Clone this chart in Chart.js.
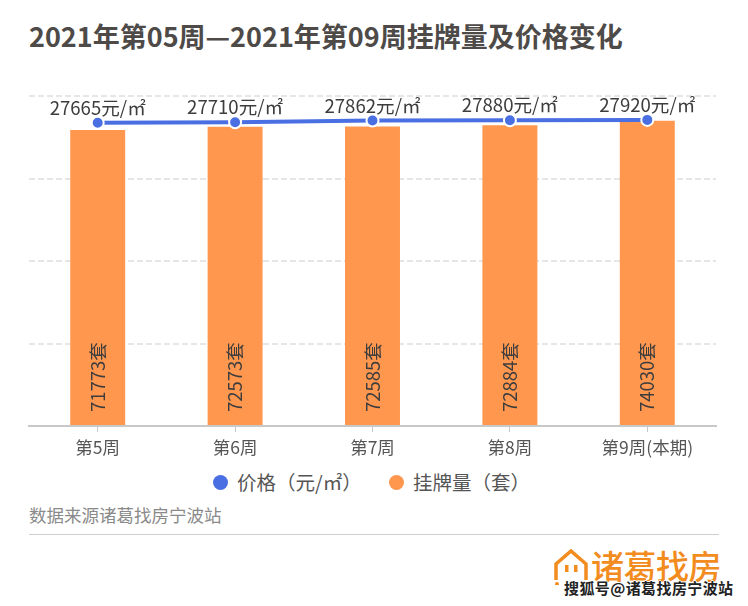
<!DOCTYPE html>
<html>
<head>
<meta charset="utf-8">
<style>
  html, body { margin: 0; padding: 0; background: #fff; }
  body { width: 748px; height: 606px; position: relative; overflow: hidden; font-family: "Noto Sans CJK SC", sans-serif; }
  #trendChart { position: absolute; left: 0; top: 0; }
  #title { position: absolute; left: 29px; top: 17px; font-size: 27px; font-weight: 700; color: #4d4a48; line-height: 38px; white-space: nowrap; }
  #legend { position: absolute; top: 470px; left: 0; height: 26px; }
  .legendItem { position: absolute; top: 0; height: 26px; line-height: 24px; font-size: 19.5px; color: #555; white-space: nowrap; }
  .legendItem i { position: absolute; left: -24px; top: 5px; width: 15px; height: 15px; border-radius: 50%; }
  #source { position: absolute; left: 29px; top: 504px; font-size: 17.5px; color: #8a8a8a; line-height: 22px; white-space: nowrap; }
  #rule { position: absolute; left: 29px; top: 534px; width: 690px; height: 1px; background: #cfcfcf; }
  #logoIcon { position: absolute; left: 554px; top: 549px; }
  #logoText { position: absolute; left: 591px; top: 544px; font-size: 33px; font-weight: 500; color: #f28c1e; line-height: 42px; white-space: nowrap; letter-spacing: -0.5px; }
  #mark { position: absolute; left: 564px; top: 578px; font-size: 15px; font-weight: 700; color: #222; line-height: 20px; white-space: nowrap; letter-spacing: 0.4px; text-shadow: 1px 0 #fff, -1px 0 #fff, 0 1px #fff, 0 -1px #fff; }
</style>
</head>
<body>
<div id="title">2021年第05周—2021年第09周挂牌量及价格变化</div>
<canvas id="trendChart" width="748" height="463"></canvas>
<div id="legend"></div>
<div id="source">数据来源诸葛找房宁波站</div>
<div id="rule"></div>
<svg id="logoIcon" width="34" height="36" viewBox="0 0 34 36">
  <path d="M2 31 V15 L17 2 L32 15 V31" fill="none" stroke="#f28c1e" stroke-width="3.5"/>
  <rect x="11" y="16" width="3.5" height="7" fill="#f28c1e"/>
  <rect x="20" y="16" width="3.5" height="7" fill="#f28c1e"/>
  <circle cx="3" cy="35" r="2" fill="#f28c1e"/>
</svg>
<div id="logoText">诸葛找房</div>
<div id="mark">搜狐号@诸葛找房宁波站</div>
<script src="https://cdn.jsdelivr.net/npm/chart.js@4"></script>
<script>
const weeks = ["第5周", "第6周", "第7周", "第8周", "第9周(本期)"];
const prices = [27665, 27710, 27862, 27880, 27920];
const listings = [71773, 72573, 72585, 72884, 74030];

const labelFont = '"Noto Sans CJK SC", sans-serif';

// value labels: price above each point, listing count rotated inside each bar
const valueLabels = {
  id: "valueLabels",
  afterDatasetsDraw(chart) {
    const ctx = chart.ctx;
    ctx.save();
    ctx.font = "18.6px " + labelFont;
    ctx.fillStyle = "#3d3d3d";
    ctx.textAlign = "center";
    ctx.textBaseline = "alphabetic";
    chart.getDatasetMeta(0).data.forEach((pt, i) => {
      ctx.fillText(prices[i] + "元/㎡", pt.x, pt.y - 8);
    });
    ctx.font = "18.5px " + labelFont;
    chart.getDatasetMeta(1).data.forEach((bar, i) => {
      ctx.save();
      ctx.translate(bar.x + 7, chart.chartArea.bottom - 14);
      ctx.rotate(-Math.PI / 2);
      ctx.textAlign = "left";
      ctx.fillText(listings[i] + "套", 0, 0);
      ctx.restore();
    });
    ctx.restore();
  }
};

const chart = new Chart(document.getElementById("trendChart"), {
  type: "bar",
  data: {
    labels: weeks,
    datasets: [
      {
        type: "line",
        label: "价格（元/㎡）",
        data: prices,
        yAxisID: "y1",
        order: 0,
        borderColor: "#4a6fe3",
        backgroundColor: "#4a6fe3",
        borderWidth: 4,
        pointRadius: 6,
        pointBorderColor: "#fff",
        pointBorderWidth: 2,
        pointBackgroundColor: "#4a6fe3",
        tension: 0
      },
      {
        label: "挂牌量（套）",
        data: listings,
        yAxisID: "y",
        order: 1,
        backgroundColor: "#ff974f",
        categoryPercentage: 1,
        barPercentage: 0.4
      }
    ]
  },
  options: {
    responsive: false,
    animation: false,
    layout: { padding: { left: 29, right: 32, top: 96, bottom: 0 } },
    plugins: {
      tooltip: { enabled: false },
      legend: { display: false }
    },
    scales: {
      x: {
        grid: { drawOnChartArea: false, offset: false, color: "#c8c8c8", tickLength: 6 },
        border: { color: "#c8c8c8", width: 2 },
        ticks: { color: "#555", padding: 5, maxRotation: 0, font: { family: labelFont, size: 17.5 } }
      },
      y: {
        min: 0,
        max: 80000,
        ticks: { display: false, stepSize: 20000 },
        grid: { color: "#e6e6e6", lineWidth: 2, drawTicks: false, tickLength: 0 },
        border: { display: false, dash: [6, 3] }
      },
      y1: {
        display: false,
        min: 0,
        max: 30100
      }
    }
  },
  plugins: [valueLabels]
});

// legend is plain html so it can sit close under the axis
const legendBox = document.getElementById("legend");
const legendX = [237, 413];
chart.data.datasets.forEach((ds, i) => {
  const item = document.createElement("div");
  item.className = "legendItem";
  item.style.left = legendX[i] + "px";
  item.innerHTML = `<i style="background:${ds.backgroundColor}"></i>${ds.label}`;
  legendBox.appendChild(item);
});
</script>
</body>
</html>
